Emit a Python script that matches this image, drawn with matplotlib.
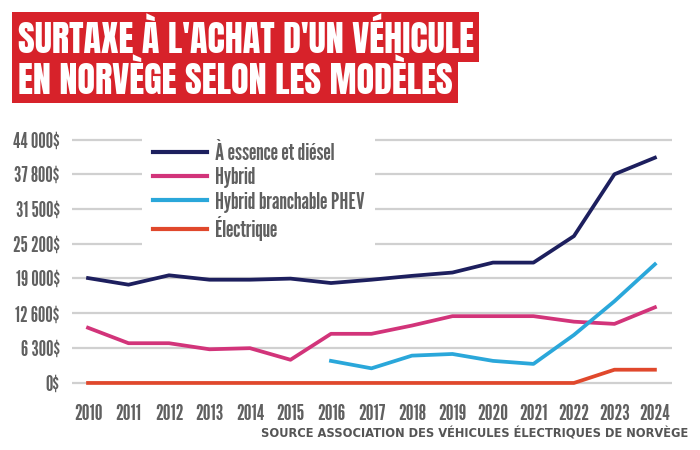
import numpy as np
import matplotlib
matplotlib.use("Agg")
import matplotlib.pyplot as plt
from matplotlib.lines import Line2D

plt.rcParams['font.family'] = ['League Gothic', 'DejaVu Sans']

# données
annees = list(range(2010, 2025))
essence = [19000, 17800, 19500, 18700, 18700, 18900, 18100, 18700, 19400, 20000,
           21800, 21800, 26600, 37800, 40800]
hybrid = [10000, 7200, 7200, 6100, 6300, 4200, 8900, 8900, 10400, 12100,
          12100, 12100, 11100, 10700, 13700]
phev_annees = list(range(2016, 2025))
phev = [4000, 2650, 4950, 5250, 4000, 3450, 8700, 14800, 21500]
electrique = [0] * 12 + [0, 2400, 2400]

yticks = [0, 6300, 12600, 19000, 25200, 31500, 37800, 44000]
ylabels = ['0$', '6 300$', '12 600$', '19 000$', '25 200$', '31 500$', '37 800$', '44 000$']
noms = ['À essence et diésel', 'Hybrid', 'Hybrid branchable PHEV', 'Électrique']
couleurs = ['#1d1f5e', '#d2347a', '#2aa7da', '#e0482c']

fig = plt.figure(figsize=(7, 4.5), dpi=100)
ax = fig.add_axes([0.1029, 0.1367, 0.857, 0.5644])

ax.plot(annees, essence, color=couleurs[0], lw=2.7, zorder=3)
ax.plot(annees, hybrid, color=couleurs[1], lw=2.7, zorder=3)
ax.plot(phev_annees, phev, color=couleurs[2], lw=2.7, zorder=3)
ax.plot(annees, electrique, color=couleurs[3], lw=2.7, zorder=3)

ax.set_xlim(2009.605, 2024.42)
ax.set_ylim(-1000, 45000)
ax.set_yticks(yticks)
ax.set_yticklabels(ylabels)
ax.set_xticks(annees)
ax.set_xticklabels([str(a) for a in annees])
ax.tick_params(length=0, colors='#606060')
ax.tick_params(axis='y', pad=9, labelsize=15)
ax.tick_params(axis='x', pad=11, labelsize=15.5)
ax.grid(axis='y', color='#d0d0d0', lw=1.6, zorder=0)
for s in ax.spines.values():
    s.set_visible(False)

handles = [Line2D([], [], color=c, lw=3) for c in couleurs]
leg = ax.legend(handles, noms, loc='upper left', bbox_to_anchor=(0.1167, 1.008),
                frameon=True, fontsize=17, labelcolor='#606060',
                handlelength=2.3, handletextpad=0.32, labelspacing=0.14,
                borderpad=0.45, borderaxespad=0)
leg.get_frame().set_facecolor('white')
leg.get_frame().set_edgecolor('none')
leg.get_frame().set_alpha(1)
leg.set_zorder(5)

# titre
for y, ligne in [(0.918, "SURTAXE À L'ACHAT D'UN VÉHICULE"), (0.827, "EN NORVÈGE SELON LES MODÈLES")]:
    fig.text(0.025, y, ligne, fontsize=26, family=['Anton', 'DejaVu Sans'],
             color='white', va='center', ha='left',
             bbox=dict(facecolor='#d7222a', edgecolor='none', pad=4))

fig.text(0.983, 0.022, 'SOURCE ASSOCIATION DES VÉHICULES ÉLECTRIQUES DE NORVÈGE',
         fontsize=8.3, fontweight='bold', family='DejaVu Sans', color='#555555',
         ha='right', va='bottom')

fig.savefig('out.png', dpi=100, facecolor='white')
